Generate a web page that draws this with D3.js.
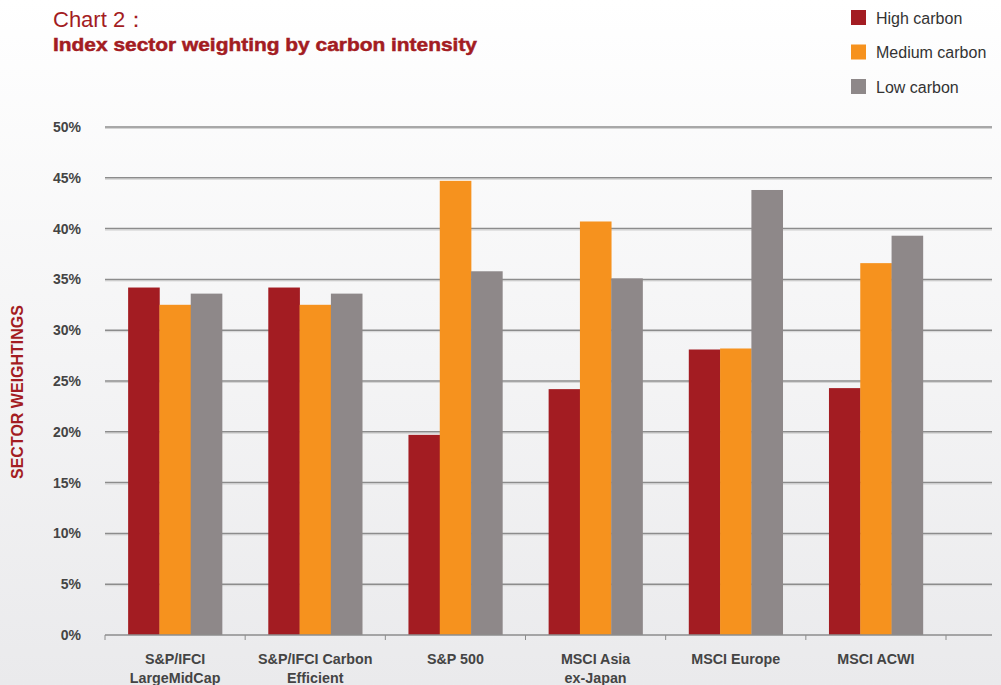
<!DOCTYPE html>
<html>
<head>
<meta charset="utf-8">
<script src="https://cdn.jsdelivr.net/npm/d3@7"></script>
<style>
body { margin: 0; font-family: "Liberation Sans", Arial, sans-serif; }
svg text { font-family: "Liberation Sans", Arial, sans-serif; }
</style>
</head>
<body>
<div class="card"></div>
<script>
const w = 1001;
const h = 685;

// data (percent)
const categories = [
	["S&P/IFCI", "LargeMidCap"],
	["S&P/IFCI Carbon", "Efficient"],
	["S&P 500"],
	["MSCI Asia", "ex-Japan"],
	["MSCI Europe"],
	["MSCI ACWI"]
];
const seriesNames = ["High carbon", "Medium carbon", "Low carbon"];
const highCarbon = [34.2, 34.2, 19.7, 24.2, 28.1, 24.3];
const mediumCarbon = [32.5, 32.5, 44.7, 40.7, 28.2, 36.6];
const lowCarbon = [33.6, 33.6, 35.8, 35.1, 43.8, 39.3];
const yTicks = [0, 5, 10, 15, 20, 25, 30, 35, 40, 45, 50];
const colors = ["#a31c22", "#f6921e", "#8e8889"];

const seriesData = [highCarbon, mediumCarbon, lowCarbon];

var svg = d3.select(".card")
	.append("svg")
	.attr("width", w)
	.attr("height", h);

// background gradient
var defs = svg.append("defs");
var grad = defs.append("linearGradient")
	.attr("id", "bg")
	.attr("x1", 0).attr("y1", 0).attr("x2", 0).attr("y2", 1);
grad.append("stop").attr("offset", "0%").attr("stop-color", "#ffffff");
grad.append("stop").attr("offset", "100%").attr("stop-color", "#eaeaec");
svg.append("rect").attr("width", w).attr("height", h).attr("fill", "url(#bg)");

var plotLeft = 105, plotRight = 946, gridEnd = 992;
var plotTop = 127, plotBottom = 635;

var x0 = d3.scaleBand()
	.domain(d3.range(categories.length))
	.range([plotLeft, plotRight])
	.paddingInner(0.33)
	.paddingOuter(0.165);
var x1 = d3.scaleBand()
	.domain(d3.range(seriesNames.length))
	.range([0, x0.bandwidth()]);
var y = d3.scaleLinear().domain([0, 50]).range([plotBottom, plotTop]);

// gridlines
svg.append("g").selectAll("line")
	.data(yTicks.filter(d => d > 0))
	.enter().append("line")
	.attr("x1", plotLeft).attr("x2", gridEnd)
	.attr("y1", d => y(d) + 1.5).attr("y2", d => y(d) + 1.5)
	.attr("stroke", "#d4d4d4").attr("stroke-width", 1);
svg.append("g").selectAll("line")
	.data(yTicks.filter(d => d > 0))
	.enter().append("line")
	.attr("x1", plotLeft).attr("x2", gridEnd)
	.attr("y1", d => y(d)).attr("y2", d => y(d))
	.attr("stroke", "#8c8c8c").attr("stroke-width", 1.5);

// y tick labels
svg.append("g").selectAll("text")
	.data(yTicks)
	.enter().append("text")
	.attr("x", 81)
	.attr("y", d => y(d) + 5)
	.attr("text-anchor", "end")
	.attr("font-size", 14)
	.attr("font-weight", "bold")
	.attr("fill", "#444")
	.text(d => d + "%");

// bars
var groups = svg.append("g").selectAll("g")
	.data(categories.map((c, i) => i))
	.enter().append("g")
	.attr("transform", i => "translate(" + x0(i) + ",0)");
groups.selectAll("rect")
	.data(i => seriesData.map((s, k) => ({ k: k, v: s[i] })))
	.enter().append("rect")
	.attr("x", d => x1(d.k))
	.attr("y", d => y(d.v))
	.attr("width", x1.bandwidth() + 0.3)
	.attr("height", d => plotBottom - y(d.v))
	.attr("fill", d => colors[d.k]);

// x axis
var xAxis = svg.append("g");
xAxis.append("line")
	.attr("x1", plotLeft).attr("x2", gridEnd)
	.attr("y1", plotBottom).attr("y2", plotBottom)
	.attr("stroke", "#8c8c8c").attr("stroke-width", 1.5);
xAxis.selectAll(".tk")
	.data(d3.range(categories.length + 1))
	.enter().append("line")
	.attr("x1", i => plotLeft + i * x0.step())
	.attr("x2", i => plotLeft + i * x0.step())
	.attr("y1", plotBottom).attr("y2", plotBottom + 5)
	.attr("stroke", "#8c8c8c").attr("stroke-width", 1);

xAxis.selectAll(".lbl")
	.data(categories)
	.enter().append("text")
	.attr("text-anchor", "middle")
	.attr("font-size", 14.3)
	.attr("font-weight", "bold")
	.attr("fill", "#444")
	.attr("transform", (d, i) => "translate(" + (x0(i) + x0.bandwidth() / 2) + ",0)")
	.each(function (d) {
		var t = d3.select(this);
		d.forEach((line, j) => {
			t.append("tspan").attr("x", 0).attr("y", 664 + j * 19).text(line);
		});
	});

// y axis title
svg.append("text")
	.attr("transform", "translate(23,392) rotate(-90)")
	.attr("text-anchor", "middle")
	.attr("font-size", 16)
	.attr("font-weight", "bold")
	.attr("fill", "#a31c22")
	.text("SECTOR WEIGHTINGS");

// titles
svg.append("text")
	.attr("x", 53).attr("y", 27)
	.attr("font-size", 22)
	.attr("fill", "#a31c22")
	.text("Chart 2\uff1a");
svg.append("text")
	.attr("x", 53).attr("y", 51)
	.attr("font-size", 18.5)
	.attr("font-weight", "bold")
	.attr("fill", "#a31c22")
	.attr("stroke", "#a31c22")
	.attr("stroke-width", 0.5)
	.attr("textLength", 424)
	.attr("lengthAdjust", "spacingAndGlyphs")
	.text("Index sector weighting by carbon intensity");

// legend
var legend = svg.append("g").selectAll("g")
	.data(seriesNames)
	.enter().append("g")
	.attr("transform", (d, i) => "translate(851," + (10 + i * 34.5) + ")");
legend.append("rect")
	.attr("width", 15).attr("height", 15)
	.attr("fill", (d, i) => colors[i]);
legend.append("text")
	.attr("x", 25).attr("y", 13.5)
	.attr("font-size", 16)
	.attr("fill", "#333")
	.text(d => d);
</script>
</body>
</html>
